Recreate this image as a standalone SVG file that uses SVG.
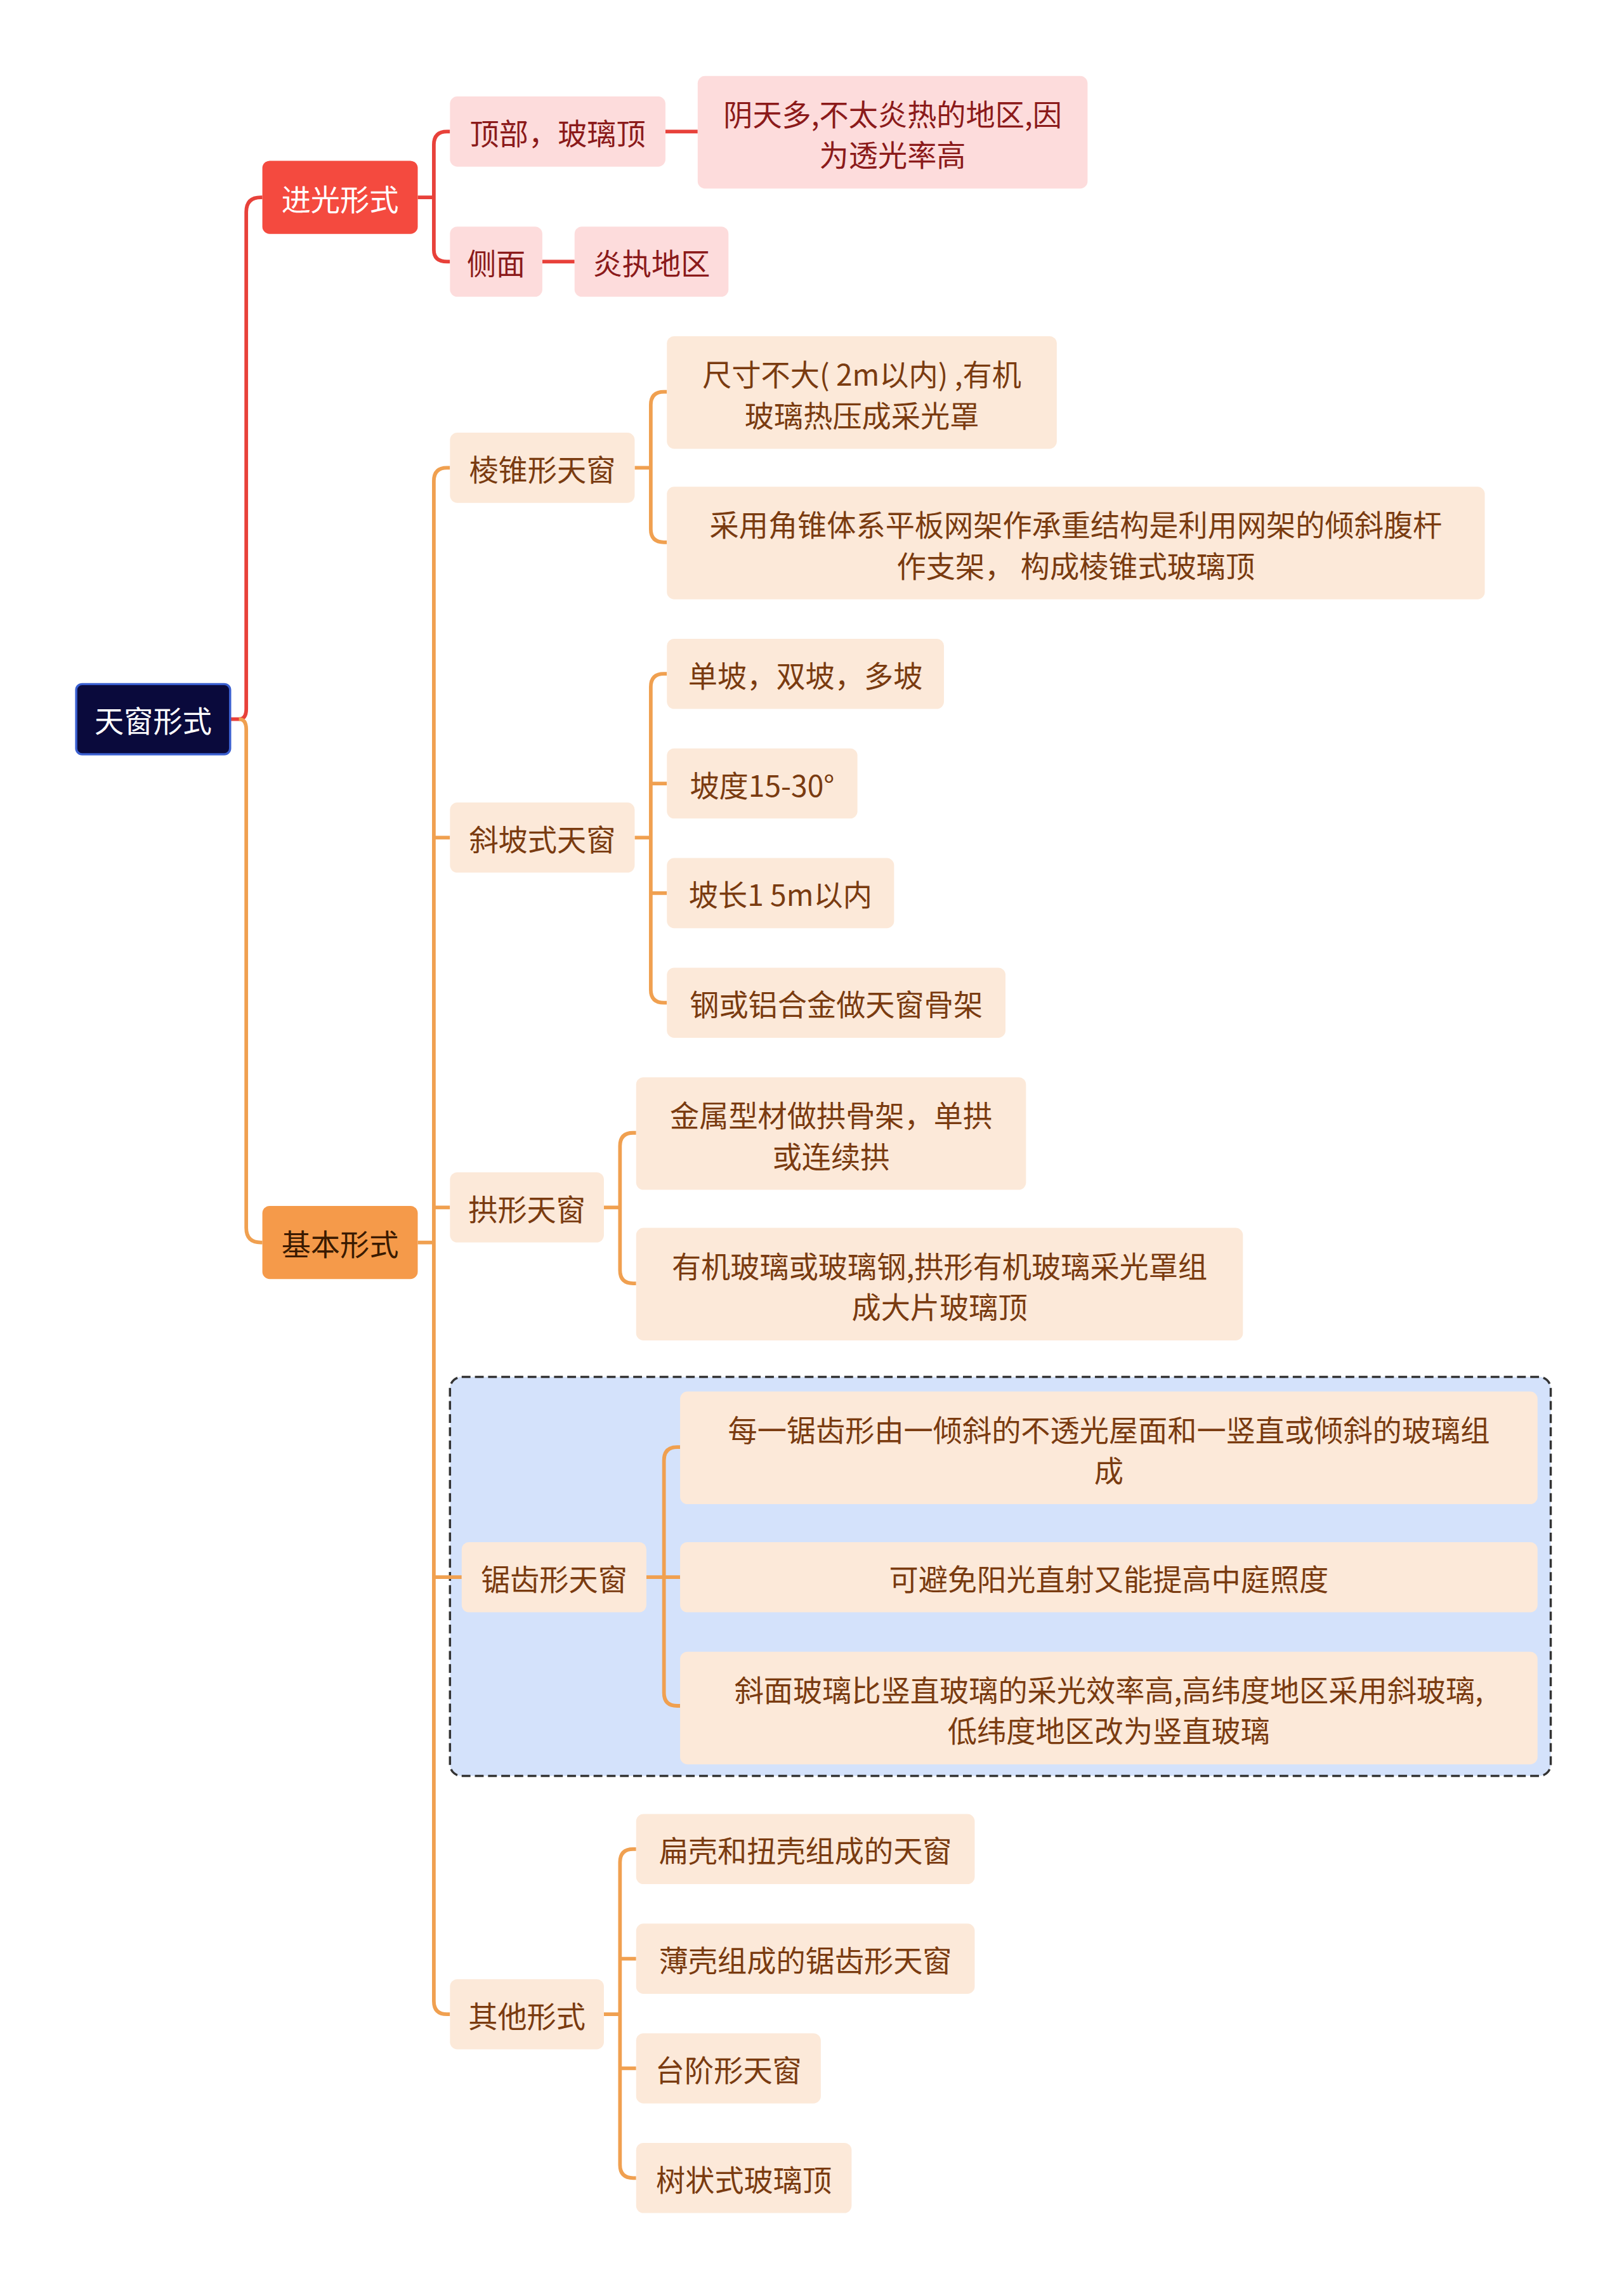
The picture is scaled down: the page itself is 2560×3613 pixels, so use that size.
<svg xmlns="http://www.w3.org/2000/svg" width="2560" height="3613" viewBox="0 0 2560 3613">
<style>
text{font-family:"Noto Sans CJK SC","Noto Sans",sans-serif;font-size:20px;text-anchor:middle;dominant-baseline:central}
.r{fill:#fddcdc}.rt{fill:#8b1a1a}
.o{fill:#fce9d9}.ot{fill:#7a3b10}
.lr{fill:none;stroke:#e8413a;stroke-width:2.5}
.lo{fill:none;stroke:#f0a050;stroke-width:2.5}
</style>
<rect width="2560" height="3613" fill="#fff"/>
<g transform="scale(2.3105,2.3042)">
<rect x="307" y="942" width="751" height="273" rx="8" fill="#d4e2fb" stroke="#333" stroke-width="1.5" stroke-dasharray="6,3"/>
<g id="connectors">
<path class="lr" d="M157,492 H163 Q168,492 168,485 V145 Q168,135 178,135 H179"/>
<path class="lo" d="M163,492 Q168,492 168,499 V840 Q168,850 178,850 H179"/>
<path class="lr" d="M285,135 H296 M307,90 H305 Q296,90 296,99 V171 Q296,179 305,179 H307 M454,90 H476 M370,179 H392"/>
<path class="lo" d="M285,850 H296 M307,320 H305 Q296,320 296,329 V1369 Q296,1378 305,1378 H307 M296,573 H307 M296,826 H307 M296,1079 H315"/>
<path class="lo" d="M433,320 H444 M455,268 H453 Q444,268 444,277 V362 Q444,371 453,371 H455"/>
<path class="lo" d="M433,573 H444 M455,461 H453 Q444,461 444,470 V677 Q444,686 453,686 H455 M444,536 H455 M444,611 H455"/>
<path class="lo" d="M412,826 H423 M434,775 H432 Q423,775 423,784 V869 Q423,878 432,878 H434"/>
<path class="lo" d="M441,1079 H464 M464,990 H462 Q453,990 453,999 V1158 Q453,1167 462,1167 H464"/>
<path class="lo" d="M412,1378 H423 M434,1265 H432 Q423,1265 423,1274 V1481 Q423,1490 432,1490 H434 M423,1340 H434 M423,1415 H434"/>
</g>
<g id="root"><rect x="52" y="468" width="105" height="48" rx="4" fill="#0a0a3c" stroke="#3a5fd0" stroke-width="1.5"/><text x="104.5" y="492" fill="#fff">天窗形式</text></g>
<g id="n1"><rect x="179" y="110" width="106" height="50" rx="5" fill="#f44a3f"/><text x="232" y="135" fill="#fff">进光形式</text></g>
<g id="n2"><rect x="179" y="825" width="106" height="50" rx="5" fill="#f59a4a"/><text x="232" y="850" fill="#3a1a00">基本形式</text></g>
<g id="n11"><rect class="r" x="307" y="66" width="147" height="48" rx="5"/><text class="rt" x="380.5" y="90">顶部，玻璃顶</text></g>
<g id="n12"><rect class="r" x="307" y="155" width="63" height="48" rx="5"/><text class="rt" x="338.5" y="179">侧面</text></g>
<g id="n111"><rect class="r" x="476" y="52" width="266" height="77" rx="5"/><text class="rt" x="609" y="77">阴天多,不太炎热的地区,因</text><text class="rt" x="609" y="105">为透光率高</text></g>
<g id="n121"><rect class="r" x="392" y="155" width="105" height="48" rx="5"/><text class="rt" x="444.5" y="179">炎执地区</text></g>
<g id="n21"><rect class="o" x="307" y="296" width="126" height="48" rx="5"/><text class="ot" x="370" y="320">棱锥形天窗</text></g>
<g id="n211"><rect class="o" x="455" y="230" width="266" height="77" rx="5"/><text class="ot" x="588" y="255">尺寸不大( 2m以内) ,有机</text><text class="ot" x="588" y="283">玻璃热压成采光罩</text></g>
<g id="n212"><rect class="o" x="455" y="333" width="558" height="77" rx="5"/><text class="ot" x="734" y="358">采用角锥体系平板网架作承重结构是利用网架的倾斜腹杆</text><text class="ot" x="734" y="386">作支架， 构成棱锥式玻璃顶</text></g>
<g id="n22"><rect class="o" x="307" y="549" width="126" height="48" rx="5"/><text class="ot" x="370" y="573">斜坡式天窗</text></g>
<g id="n221"><rect class="o" x="455" y="437" width="189" height="48" rx="5"/><text class="ot" x="549.5" y="461">单坡，双坡，多坡</text></g>
<g id="n222"><rect class="o" x="455" y="512" width="130" height="48" rx="5"/><text class="ot" x="520" y="536">坡度15-30°</text></g>
<g id="n223"><rect class="o" x="455" y="587" width="155" height="48" rx="5"/><text class="ot" x="532.5" y="611">坡长1 5m以内</text></g>
<g id="n224"><rect class="o" x="455" y="662" width="231" height="48" rx="5"/><text class="ot" x="570.5" y="686">钢或铝合金做天窗骨架</text></g>
<g id="n23"><rect class="o" x="307" y="802" width="105" height="48" rx="5"/><text class="ot" x="359.5" y="826">拱形天窗</text></g>
<g id="n231"><rect class="o" x="434" y="737" width="266" height="77" rx="5"/><text class="ot" x="567" y="762">金属型材做拱骨架，单拱</text><text class="ot" x="567" y="790">或连续拱</text></g>
<g id="n232"><rect class="o" x="434" y="840" width="414" height="77" rx="5"/><text class="ot" x="641" y="865">有机玻璃或玻璃钢,拱形有机玻璃采光罩组</text><text class="ot" x="641" y="893">成大片玻璃顶</text></g>
<g id="n24"><rect class="o" x="315" y="1055" width="126" height="48" rx="5"/><text class="ot" x="378" y="1079">锯齿形天窗</text></g>
<g id="n241"><rect class="o" x="464" y="952" width="585" height="77" rx="5"/><text class="ot" x="756.5" y="977">每一锯齿形由一倾斜的不透光屋面和一竖直或倾斜的玻璃组</text><text class="ot" x="756.5" y="1005">成</text></g>
<g id="n242"><rect class="o" x="464" y="1055" width="585" height="48" rx="5"/><text class="ot" x="756.5" y="1079">可避免阳光直射又能提高中庭照度</text></g>
<g id="n243"><rect class="o" x="464" y="1130" width="585" height="77" rx="5"/><text class="ot" x="756.5" y="1155">斜面玻璃比竖直玻璃的采光效率高,高纬度地区采用斜玻璃,</text><text class="ot" x="756.5" y="1183">低纬度地区改为竖直玻璃</text></g>
<g id="n25"><rect class="o" x="307" y="1354" width="105" height="48" rx="5"/><text class="ot" x="359.5" y="1378">其他形式</text></g>
<g id="n251"><rect class="o" x="434" y="1241" width="231" height="48" rx="5"/><text class="ot" x="549.5" y="1265">扁壳和扭壳组成的天窗</text></g>
<g id="n252"><rect class="o" x="434" y="1316" width="231" height="48" rx="5"/><text class="ot" x="549.5" y="1340">薄壳组成的锯齿形天窗</text></g>
<g id="n253"><rect class="o" x="434" y="1391" width="126" height="48" rx="5"/><text class="ot" x="497" y="1415">台阶形天窗</text></g>
<g id="n254"><rect class="o" x="434" y="1466" width="147" height="48" rx="5"/><text class="ot" x="507.5" y="1490">树状式玻璃顶</text></g>
</g>
</svg>
